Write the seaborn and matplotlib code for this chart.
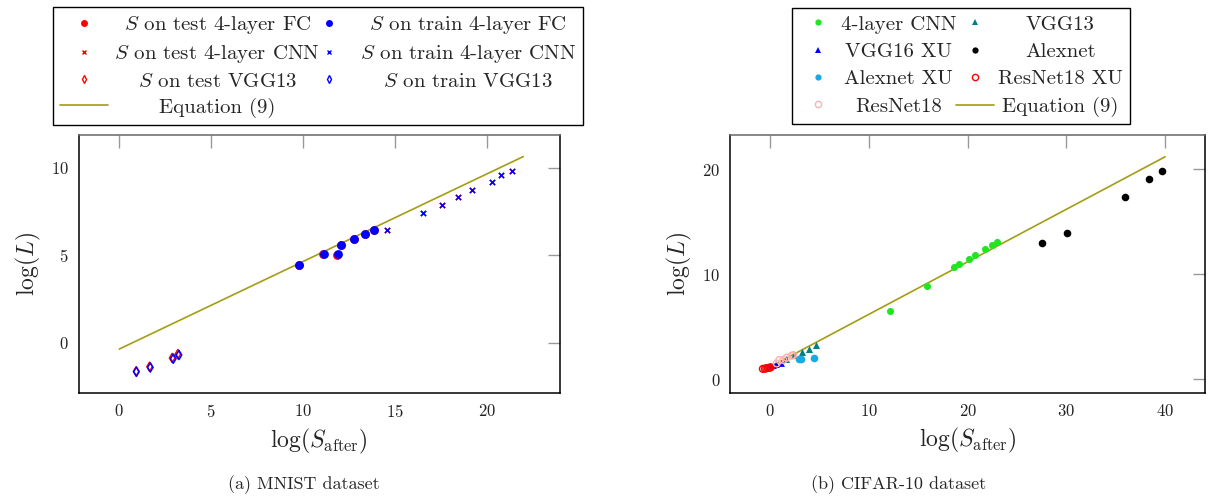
import matplotlib
matplotlib.use("Agg")
import matplotlib.pyplot as plt
import seaborn as sns
import numpy as np
from matplotlib.lines import Line2D

sns.set_theme(style="white")
plt.rcParams['font.family'] = ['cmr10', 'DejaVu Serif']
plt.rcParams['mathtext.fontset'] = 'cm'
plt.rcParams['axes.formatter.use_mathtext'] = True

# === MNIST (a) ===
fc_train_x = [9.78, 11.14, 11.89, 12.07, 12.78, 13.39, 13.88]
fc_train_y = [4.46, 5.09, 5.05, 5.58, 5.94, 6.21, 6.44]
fc_test_x = [9.76, 11.12, 11.85, 12.05, 12.76, 13.37, 13.86]
fc_test_y = [4.45, 5.08, 5.02, 5.57, 5.93, 6.20, 6.43]

cnn_train_x = [14.59, 16.53, 17.57, 18.46, 19.22, 20.29, 20.78, 21.39]
cnn_train_y = [6.46, 7.43, 7.87, 8.34, 8.74, 9.20, 9.56, 9.79]
cnn_test_x = [14.58, 16.52, 17.56, 18.45, 19.21, 20.28, 20.77, 21.38]
cnn_test_y = [6.47, 7.44, 7.88, 8.35, 8.75, 9.21, 9.57, 9.80]

vgg_train_x = [0.93, 1.69, 2.94, 3.25]
vgg_train_y = [-1.66, -1.41, -0.91, -0.70]
vgg_test_x = [0.92, 1.65, 2.88, 3.19]
vgg_test_y = [-1.63, -1.37, -0.87, -0.65]

eq_a_x = [0, 22]
eq_a_y = [-0.36, 10.64]

# === CIFAR-10 (b) ===
cnn4_x = [12.16, 15.91, 18.58, 19.09, 20.16, 20.77, 21.78, 22.49, 22.97]
cnn4_y = [6.53, 8.89, 10.72, 10.98, 11.49, 11.84, 12.44, 12.76, 13.08]
alex_x = [27.56, 30.09, 35.94, 38.34, 39.72]
alex_y = [12.95, 13.96, 17.39, 19.10, 19.87]
alexxu_x = [2.9, 3.15, 4.43]
alexxu_y = [1.95, 1.98, 2.06]
vgg13_x = [1.6, 2.4, 3.2, 3.95, 4.6]
vgg13_y = [1.9, 2.3, 2.6, 2.92, 3.25]
vgg16xu_x = [-0.2, 0.0, 0.3, 0.6, 1.07]
vgg16xu_y = [1.2, 1.25, 1.35, 1.45, 1.52]
resxu_x = [-0.75, -0.55, -0.4, -0.25, -0.1, 0.05]
resxu_y = [1.0, 1.02, 1.05, 1.08, 1.1, 1.15]
res_x = [0.65, 0.91, 1.32, 1.66, 2.17, 2.33]
res_y = [1.52, 1.84, 1.84, 2.06, 2.25, 2.31]

eq_b_x = [0, 40]
eq_b_y = [1.2, 21.2]

OLIVE = '#a39d14'

fig = plt.figure(figsize=(12.1, 4.98), dpi=100)
ax1 = fig.add_axes([0.0649, 0.2102, 0.3979, 0.5193])
ax2 = fig.add_axes([0.6033, 0.2102, 0.3926, 0.5193])

# --- panel (a)
sns.lineplot(x=eq_a_x, y=eq_a_y, ax=ax1, color=OLIVE, linewidth=1.2, zorder=1)
sns.scatterplot(x=fc_test_x, y=fc_test_y, ax=ax1, color='red', s=40, linewidth=0, zorder=2)
sns.scatterplot(x=fc_train_x, y=fc_train_y, ax=ax1, color='blue', s=40, linewidth=0, zorder=3)
sns.scatterplot(x=cnn_test_x, y=cnn_test_y, ax=ax1, color='red', marker='x', s=14, linewidth=1.1, zorder=2)
sns.scatterplot(x=cnn_train_x, y=cnn_train_y, ax=ax1, color='blue', marker='x', s=14, linewidth=1.1, zorder=3)
ax1.scatter(vgg_test_x, vgg_test_y, marker='d', s=22, facecolors='none', edgecolors='red', linewidths=1.1, zorder=2)
ax1.scatter(vgg_train_x, vgg_train_y, marker='d', s=22, facecolors='none', edgecolors='blue', linewidths=1.1, zorder=3)
ax1.set_xlim(-2.22, 24.0)
ax1.set_ylim(-2.89, 11.89)
ax1.set_xticks([0, 5, 10, 15, 20])
ax1.set_yticks([0, 5, 10])

# --- panel (b)
sns.lineplot(x=eq_b_x, y=eq_b_y, ax=ax2, color=OLIVE, linewidth=1.2, zorder=1)
sns.scatterplot(x=cnn4_x, y=cnn4_y, ax=ax2, color='#1fe61f', s=26, linewidth=0, zorder=3)
sns.scatterplot(x=vgg13_x, y=vgg13_y, ax=ax2, color='#008080', marker='^', s=26, linewidth=0, zorder=3)
sns.scatterplot(x=vgg16xu_x, y=vgg16xu_y, ax=ax2, color='blue', marker='^', s=24, linewidth=0, zorder=3)
sns.scatterplot(x=alex_x, y=alex_y, ax=ax2, color='black', s=30, linewidth=0, zorder=3)
sns.scatterplot(x=alexxu_x, y=alexxu_y, ax=ax2, color='#1aa9e8', s=30, linewidth=0, zorder=3)
ax2.scatter(resxu_x, resxu_y, marker='o', s=24, facecolors='none', edgecolors='red', linewidths=1.0, zorder=4)
ax2.scatter(res_x, res_y, marker='o', s=24, facecolors='none', edgecolors='#ffb0b0', linewidths=1.0, zorder=4)
ax2.set_xlim(-4.08, 44.04)
ax2.set_ylim(-1.33, 23.3)
ax2.set_xticks([0, 10, 20, 30, 40])
ax2.set_yticks([0, 10, 20])

for ax in (ax1, ax2):
    ax.tick_params(direction='in', length=9, width=1, color='#999999',
                   top=True, right=True, labelsize=12, pad=7, labelcolor='#222222')
    for side in ('left', 'bottom', 'right'):
        ax.spines[side].set_color('black')
        ax.spines[side].set_linewidth(1.1)
    ax.spines['top'].set_color('#666666')
    ax.spines['top'].set_linewidth(1.1)
    ax.set_xlabel(r'$\log(S_{\mathrm{after}})$', fontsize=17, labelpad=5)
    ax.set_ylabel(r'$\log(L)$', fontsize=17, labelpad=6)

# --- legends
def mk(marker, color, ms, face=None, mew=1.0):
    return Line2D([], [], linestyle='none', marker=marker, color=color, markersize=ms,
                  markerfacecolor=face if face is not None else color,
                  markeredgecolor=color, markeredgewidth=mew)

eq_handle = Line2D([], [], color=OLIVE, linewidth=1.2)

h_a = [mk('o', 'red', 5, mew=0), mk('x', 'red', 3.5), mk('d', 'red', 4, face='none'), eq_handle,
       mk('o', 'blue', 5, mew=0), mk('x', 'blue', 3.5), mk('d', 'blue', 4, face='none')]
l_a = [r'$S$ on test 4-layer FC', r'$S$ on test 4-layer CNN', r'$S$ on test VGG13', 'Equation (9)',
       r'$S$ on train 4-layer FC', r'$S$ on train 4-layer CNN', r'$S$ on train VGG13']
leg_a = fig.legend(h_a, l_a, ncol=2, loc='center', bbox_to_anchor=(0.2628, 0.8675),
                   fontsize=15, frameon=True, fancybox=False, edgecolor='black', framealpha=1,
                   labelspacing=0.33, handlelength=2.3, columnspacing=-0.7, handletextpad=0.3,
                   borderpad=0.35)
leg_a.get_frame().set_linewidth(1.0)

h_b = [mk('o', '#1fe61f', 4.5, mew=0), mk('^', 'blue', 4.5, mew=0), mk('o', '#1aa9e8', 4.5, mew=0),
       mk('o', '#ffb0b0', 4.5, face='none'), mk('^', '#008080', 4.5, mew=0),
       mk('o', 'black', 4.5, mew=0), mk('o', 'red', 4.5, face='none'), eq_handle]
l_b = ['4-layer CNN', 'VGG16 XU', 'Alexnet XU', 'ResNet18', 'VGG13', 'Alexnet', 'ResNet18 XU', 'Equation (9)']
leg_b = fig.legend(h_b, l_b, ncol=2, loc='center', bbox_to_anchor=(0.7942, 0.8675),
                   fontsize=15, frameon=True, fancybox=False, edgecolor='black', framealpha=1,
                   labelspacing=0.42, handlelength=1.8, columnspacing=0.0, handletextpad=0.2,
                   borderpad=0.35)
leg_b.get_frame().set_linewidth(1.0)

# centre the legend texts inside their columns, as pgfplots does
fig.canvas.draw()
renderer = fig.canvas.get_renderer()
for leg in (leg_a, leg_b):
    for col in leg._legend_handle_box.get_children():
        items = col.get_children()
        widths = [it.get_children()[1].get_window_extent(renderer).width for it in items]
        wmax = max(widths)
        for it, w in zip(items, widths):
            it.sep += (wmax - w) / 2 * 72 / fig.dpi

# --- captions
fig.text(0.251, 0.026, '(a) MNIST dataset', ha='center', va='center', fontsize=13)
fig.text(0.743, 0.026, '(b) CIFAR-10 dataset', ha='center', va='center', fontsize=13)

fig.savefig('out.png', dpi=100)
